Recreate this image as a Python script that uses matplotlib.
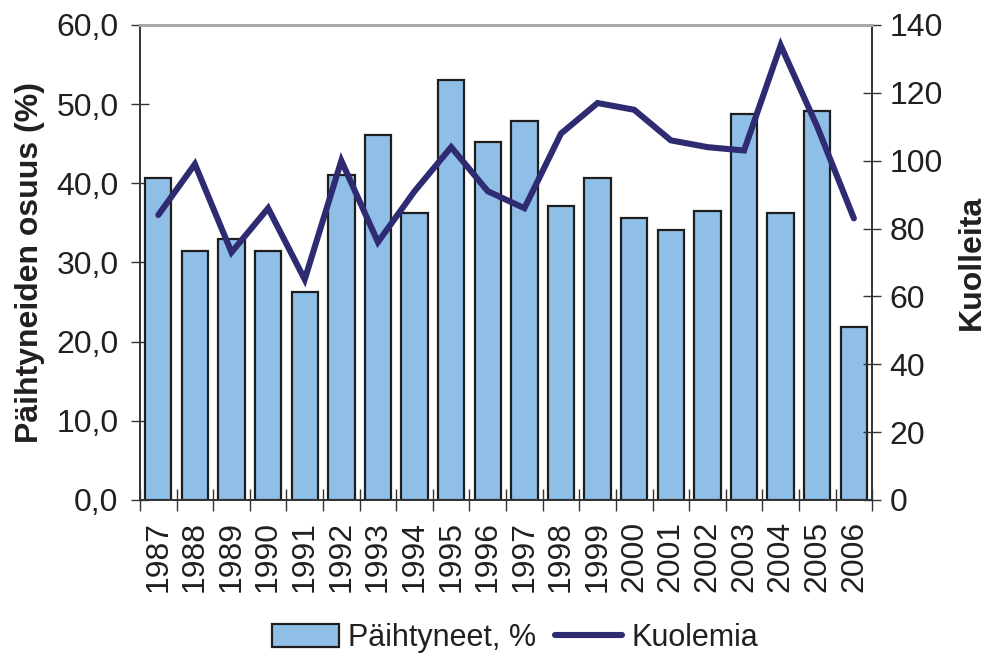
import matplotlib
matplotlib.use('Agg')
import matplotlib.pyplot as plt
import numpy as np

plt.rcParams['font.family'] = ['Liberation Sans', 'DejaVu Sans']

# data
years = ['1987', '1988', '1989', '1990', '1991', '1992', '1993', '1994', '1995', '1996',
         '1997', '1998', '1999', '2000', '2001', '2002', '2003', '2004', '2005', '2006']
paihtyneet = [40.7, 31.4, 33.0, 31.4, 26.3, 41.0, 46.1, 36.2, 53.0, 45.2,
              47.9, 37.1, 40.7, 35.6, 34.1, 36.5, 48.8, 36.2, 49.1, 21.8]
kuolemia = [84, 99, 73, 86, 65, 100, 76, 91, 104, 91,
            86, 108, 117, 115, 106, 104, 103, 134, 110, 83]

# styles
bar_color = '#8fbfe7'
line_color = '#2f2b73'
text_color = '#231f20'
fs = 23

x = np.arange(len(years))

fig = plt.figure(figsize=(9.9, 6.61), dpi=100)
ax = fig.add_axes([0.1414, 0.2436, 0.7396, 0.7186])
ax2 = ax.twinx()

ax.bar(x, paihtyneet, width=0.72, color=bar_color, edgecolor='#1e1e1e', linewidth=1.6,
       label='Päihtyneet, %', zorder=2)
ax2.plot(x, kuolemia, color=line_color, linewidth=4.4, solid_capstyle='round',
         solid_joinstyle='miter', label='Kuolemia', zorder=3)

ax.set_xlim(-0.5, len(years) - 0.5)
ax.set_ylim(0, 60)
ax2.set_ylim(0, 140)

ax.set_yticks(np.arange(0, 61, 10))
ax.set_yticklabels([f'{v:.1f}'.replace('.', ',') for v in np.arange(0, 61, 10)])
ax2.set_yticks(np.arange(0, 141, 20))

ax.set_xticks(x)
ax.set_xticklabels(years, rotation=90)
ax.set_xticks(np.arange(-0.5, len(years), 1), minor=True)
ax.tick_params(axis='x', which='major', length=0, pad=15, labelsize=fs, labelcolor=text_color)
ax.tick_params(axis='x', which='minor', direction='inout', length=16, width=1, color='#333333')
ax.tick_params(axis='y', direction='inout', length=13, width=1, pad=9, labelsize=fs,
               labelcolor=text_color, color='#333333')
ax2.tick_params(axis='y', direction='inout', length=13, width=1, pad=6, labelsize=fs,
                labelcolor=text_color, color='#333333')

for a in (ax, ax2):
    a.spines['top'].set_color('#a7a9ac')
    a.spines['top'].set_linewidth(2)
    for side in ('left', 'right', 'bottom'):
        a.spines[side].set_color('#333333')
        a.spines[side].set_linewidth(1.2)

ax.set_ylabel('Päihtyneiden osuus (%)', fontsize=fs, fontweight='bold', color=text_color, labelpad=8)
ax2.set_ylabel('Kuolleita', fontsize=fs, fontweight='bold', color=text_color, labelpad=10)

h1, l1 = ax.get_legend_handles_labels()
h2, l2 = ax2.get_legend_handles_labels()
fig.legend(h1 + h2, l1 + l2, loc='lower center', bbox_to_anchor=(0.52, -0.03), ncol=2,
           frameon=False, fontsize=22, handlelength=2.2, handleheight=0.75, handletextpad=0.3,
           columnspacing=0.6, labelcolor=text_color)

fig.savefig('out.png', dpi=100)
